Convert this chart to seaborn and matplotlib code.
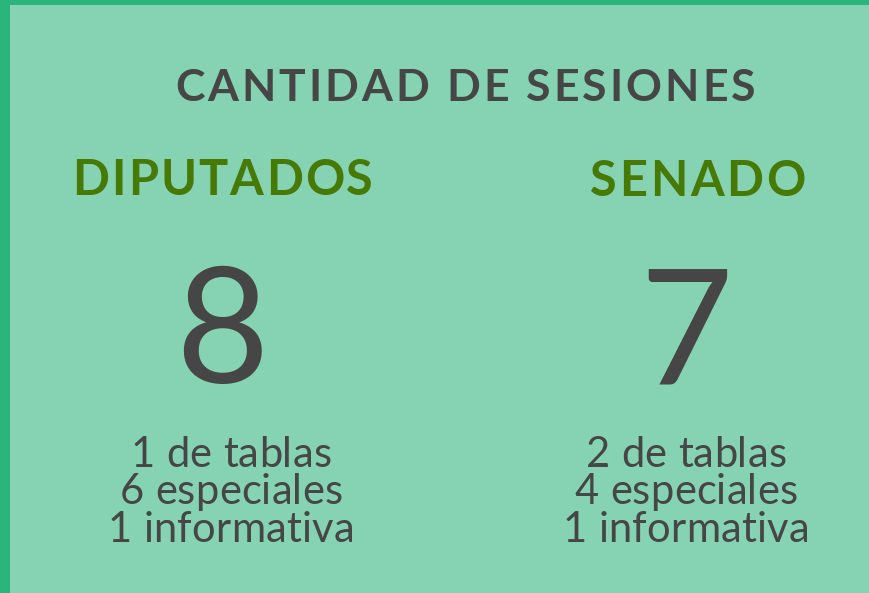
import matplotlib
matplotlib.use("Agg")
import numpy as np
import pandas as pd
import seaborn as sns
import matplotlib.pyplot as plt
from matplotlib.font_manager import FontProperties, findfont, get_font

# ---------------- data ----------------
title = "CANTIDAD DE SESIONES"
chambers = ["DIPUTADOS", "SENADO"]
totals = [8, 7]
session_types = ["de tablas", "especiales", "informativa"]
counts_diputados = [1, 6, 1]
counts_senado = [2, 4, 1]

# ---------------- style ----------------
BORDER = "#2BB57D"
BG = "#86D3B4"
DARK = "#464646"
GREEN = "#477A04"
FAM = ["Lato", "DejaVu Sans"]

sns.set_theme(style="white")
plt.rcParams["font.family"] = FAM

fig = plt.figure(figsize=(8.69, 5.93), dpi=100, facecolor=BORDER)
ax = fig.add_axes([10 / 869, 0, 859 / 869, 588 / 593])
ax.set_facecolor(BG)
ax.set_xlim(10, 869)
ax.set_ylim(593, 5)
ax.set_xticks([])
ax.set_yticks([])
for sp in ax.spines.values():
    sp.set_visible(False)

try:
    from matplotlib.ft2font import Kerning
    KMODE = Kerning.DEFAULT
except Exception:
    KMODE = 0


def pen_positions(s, fp):
    font = get_font(findfont(fp))
    font.set_size(fp.get_size_in_points(), 100)
    pen = 0.0
    prev = None
    xs = []
    for ch in s:
        gi = font.get_char_index(ord(ch))
        if prev is not None:
            try:
                pen += font.get_kerning(prev, gi, KMODE) / 64.0
            except Exception:
                pass
        xs.append(pen)
        g = font.load_char(ord(ch))
        pen += g.linearHoriAdvance / 65536.0
        prev = gi
    return xs, pen


def fit_track(s, fp, target):
    _, total = pen_positions(s, fp)
    return (target - total) / max(len(s) - 1, 1)


def tracked(x, y, s, fp, color, track=0.0):
    xs, total = pen_positions(s, fp)
    width = total + track * (len(s) - 1)
    x0 = x - width / 2
    for i, ch in enumerate(s):
        if ch == " ":
            continue
        ax.text(x0 + xs[i] + i * track, y, ch, fontproperties=fp, color=color,
                ha="left", va="baseline")


# title
fp_title = FontProperties(family=FAM, size=32, weight="bold")
tracked(465, 101, title, fp_title, DARK, fit_track(title, fp_title, 580))

# chamber headings
fp_head = FontProperties(family=FAM, size=35, weight="bold")
head_cx = [222.5, 697.5]
head_w = [301, 215]
head_y = [195, 196]
for name, cx, w, y in zip(chambers, head_cx, head_w, head_y):
    tracked(cx, y, name, fp_head, GREEN, fit_track(name, fp_head, w))

# big totals
fp_big = FontProperties(family=FAM, size=116, weight="normal")
big_cx = [221.5, 686]
for t, cx in zip(totals, big_cx):
    ax.text(cx, 383, str(t), fontproperties=fp_big, color=DARK,
            ha="center", va="baseline")

# breakdown lines
fp_det = FontProperties(family=FAM, size=30, weight="normal")
det_cx = [231, 686]
line_y = [467, 504, 542]
for counts, cx in zip([counts_diputados, counts_senado], det_cx):
    lines = [f"{c} {t}" for c, t in zip(counts, session_types)]
    trk = fit_track(lines[1], fp_det, 223)
    for ln, y in zip(lines, line_y):
        tracked(cx, y, ln, fp_det, DARK, trk)

fig.savefig("out.png", dpi=100, facecolor=BORDER)
